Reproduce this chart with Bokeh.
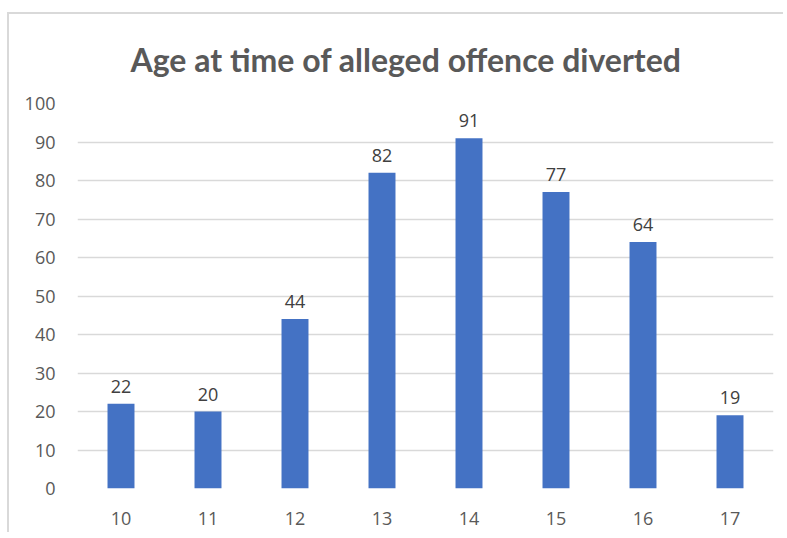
from bokeh.plotting import figure
from bokeh.models import ColumnDataSource, Range1d, FixedTicker
from bokeh.embed import file_html
from bokeh.resources import INLINE
from bokeh.core.properties import value

ages = ["10", "11", "12", "13", "14", "15", "16", "17"]
counts = [22, 20, 44, 82, 91, 77, 64, 19]
y_ticks = [0, 10, 20, 30, 40, 50, 60, 70, 80, 90, 100]
title_text = "Age at time of alleged offence diverted"

src = ColumnDataSource(dict(age=ages, count=counts, label=[str(c) for c in counts]))

p = figure(x_range=ages, y_range=Range1d(0, 100), width=776, height=520,
           output_backend="svg", toolbar_location=None,
           min_border_left=68, min_border_right=12, min_border_top=89, min_border_bottom=46)
p.styles = {"margin-top": "12px", "margin-left": "7px",
            "border-top": "2px solid #d9d9d9", "border-left": "2px solid #d9d9d9"}
p.outline_line_color = None
p.background_fill_color = "white"
p.border_fill_color = "white"

p.vbar(x="age", top="count", width=0.31, source=src, color="#4472C4", line_color=None)
p.text(x="age", y="count", text="label", source=src, text_align="center",
       text_baseline="bottom", y_offset=-11, text_font=value("Open Sans"),
       text_font_size="18px", text_color="#404040")

p.xgrid.grid_line_color = None
p.ygrid.grid_line_color = "#d9d9d9"
p.ygrid.grid_line_width = 1.5
p.yaxis.ticker = FixedTicker(ticks=y_ticks)

for ax in (p.xaxis, p.yaxis):
    ax.axis_line_color = None
    ax.major_tick_line_color = None
    ax.minor_tick_line_color = None
    ax.major_label_text_font = "Open Sans"
    ax.major_label_text_font_size = "18px"
    ax.major_label_text_color = "#595959"
p.yaxis.major_label_standoff = 16
p.xaxis.major_label_standoff = 17

p.title.text = title_text
p.title.align = "left"
p.title.vertical_align = "top"
p.title.text_font = "Lato"
p.title.text_font_style = "bold"
p.title.text_font_size = "32px"
p.title.text_color = "#595959"
p.title.offset = 53
p.title.standoff = 46

open("out.html", "w").write(file_html(p, INLINE))
